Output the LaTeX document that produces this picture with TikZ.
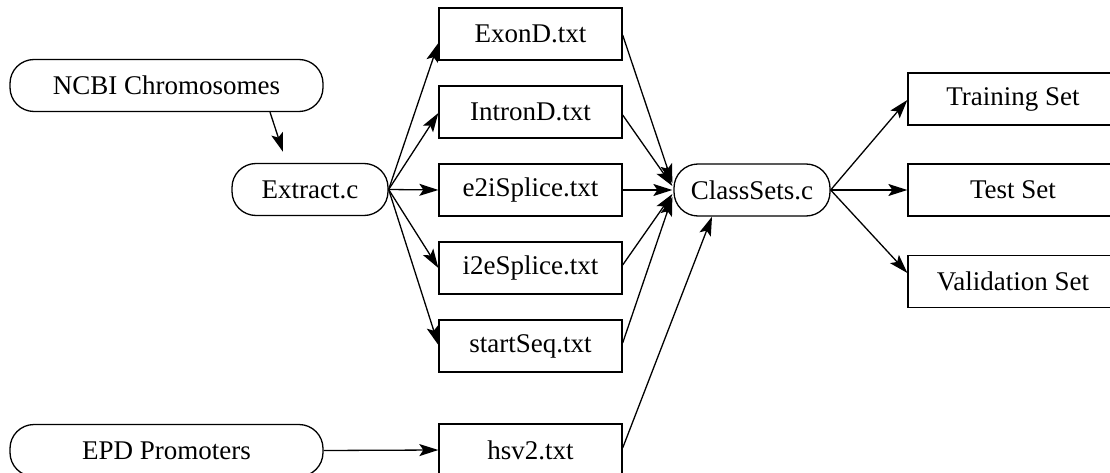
\documentclass[tikz,border=0pt]{standalone}
\usepackage{fontspec}
\setmainfont{Liberation Serif}
\usetikzlibrary{arrows.meta}
\begin{document}
\begin{tikzpicture}[x=1pt,y=-1pt,
  every node/.style={font=\fontsize{27}{32}\selectfont, inner sep=0pt, line width=1.3pt, draw},
  prog/.style={rectangle, rounded corners=24pt, minimum height=52pt},
  datafile/.style={rectangle, minimum width=183pt, minimum height=52pt},
  outset/.style={rectangle, minimum width=210pt, minimum height=52pt},
  flow/.style={line width=1.3pt, -{Stealth[length=19pt, width=12pt, inset=4pt]}}]
\useasboundingbox (0,0) rectangle (1110,473);
\clip (0,0) rectangle (1110,473);

% sources
\node[prog, minimum width=313pt] (ncbi) at (166.5,85.5) {NCBI Chromosomes};
\node[prog, minimum width=313pt] (epd)  at (166.5,450.5) {EPD Promoters};

% programs
\node[prog, minimum width=156pt] (extract) at (310,189.5) {Extract.c};
\node[prog, minimum width=156pt] (classsets) at (752,190) {ClassSets.c};

% intermediate files
\node[datafile] (exon)   at (530.5,34)  {ExonD.txt};
\node[datafile] (intron) at (530.5,112) {IntronD.txt};
\node[datafile] (e2i)    at (530.5,190) {e2iSplice.txt};
\node[datafile] (i2e)    at (530.5,268) {i2eSplice.txt};
\node[datafile] (start)  at (530.5,346) {startSeq.txt};
\node[datafile] (hsv)    at (530.5,450) {hsv2.txt};

% output sets
\node[outset] (train) at (1013,99)    {Training Set};
\node[outset] (test)  at (1013,190)   {Test Set};
\node[outset] (valid) at (1013,281.5) {Validation Set};

% edges
\draw[flow] ([xshift=103.5pt]ncbi.south) -- ([xshift=-27pt,yshift=11pt]extract.north);

\draw[flow] (extract.east) -- ([yshift=-9pt]exon.west);
\draw[flow] (extract.east) -- ([yshift=-1pt]intron.west);
\draw[flow] (extract.east) -- (e2i.west);
\draw[flow] (extract.east) -- (i2e.west);
\draw[flow] (extract.east) -- ([yshift=1pt]start.west);

\draw[flow] ([yshift=-1pt]exon.east)   -- ([xshift=-1pt,yshift=7pt]classsets.west);
\draw[flow] ([yshift=-3pt]intron.east) -- ([xshift=-1pt,yshift=4pt]classsets.west);
\draw[flow] (e2i.east)                 -- ([xshift=-1pt]classsets.west);
\draw[flow] ([yshift=3pt]i2e.east)     -- ([xshift=-1pt,yshift=-4pt]classsets.west);
\draw[flow] ([yshift=3pt]start.east)   -- ([xshift=-1pt,yshift=-7pt]classsets.west);

\draw[flow] (epd.east) -- (hsv.west);
\draw[flow] ([yshift=2pt]hsv.east) -- ([xshift=-40pt]classsets.south);

\draw[flow] (classsets.east) -- ([yshift=-1pt]train.west);
\draw[flow] (classsets.east) -- (test.west);
\draw[flow] (classsets.east) -- ([yshift=8.5pt]valid.west);
\end{tikzpicture}
\end{document}
